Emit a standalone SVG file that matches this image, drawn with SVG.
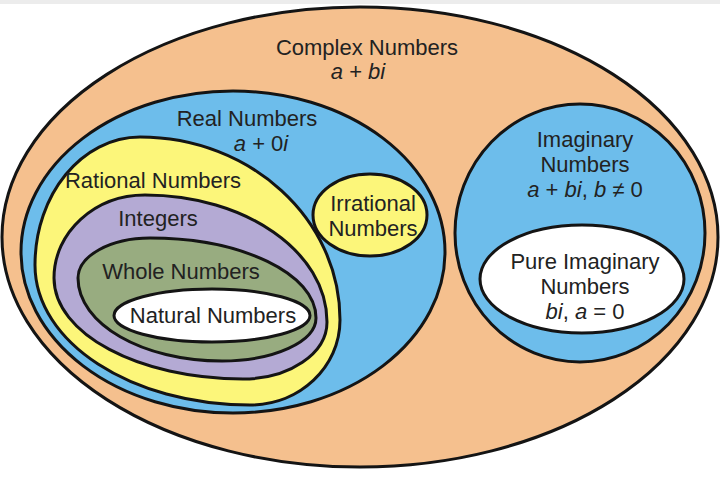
<svg xmlns="http://www.w3.org/2000/svg" width="720" height="480" viewBox="0 0 720 480">
<style>
.s{stroke:#141414;stroke-width:3}
.t{font-family:"Liberation Sans",Arial,sans-serif;font-size:22px;fill:#222;text-anchor:middle}
.i{font-style:italic}
</style>
<rect width="720" height="480" fill="#ffffff"/>
<rect width="720" height="4" fill="#ececec"/>
<g id="complex">
<ellipse class="s" cx="360" cy="237" rx="358" ry="230" fill="#F5C08E"/>
<text class="t" x="367" y="55">Complex Numbers</text>
<text class="t" x="358" y="79"><tspan class="i">a</tspan> + <tspan class="i">bi</tspan></text>
</g>
<g id="real">
<ellipse class="s" cx="233" cy="252" rx="212" ry="161" fill="#6DBDEB"/>
<text class="t" x="247" y="126">Real Numbers</text>
<text class="t" x="261" y="151"><tspan class="i">a</tspan> + 0<tspan class="i">i</tspan></text>
</g>
<g id="rational">
<path class="s" fill="#FCF67A" d="M35,265 C35,194.3 82,137 140,137 C250.5,137 340,218.9 340,320 C340,367 299.7,405 250,405 C131.3,405 35,342.3 35,265 Z"/>
<text class="t" x="153" y="188">Rational Numbers</text>
</g>
<g id="integers">
<path class="s" fill="#B4AAD4" d="M54,278 C54,232.2 94.7,195 145,195 C245.5,195 327,251.9 327,322 C327,353.5 289.4,379 243,379 C138.6,379 54,333.8 54,278 Z"/>
<text class="t" x="158" y="226">Integers</text>
</g>
<g id="whole">
<path class="s" fill="#98AC80" d="M78,278 C78,255.9 110.2,238 150,238 C241.7,238 316,273.8 316,318 C316,341.7 273.9,361 222,361 C142.5,361 78,323.8 78,278 Z"/>
<text class="t" x="181" y="279">Whole Numbers</text>
</g>
<g id="natural">
<ellipse class="s" cx="212" cy="315.5" rx="98" ry="26.5" fill="#ffffff"/>
<text class="t" x="213" y="323">Natural Numbers</text>
</g>
<g id="irrational">
<ellipse class="s" cx="370" cy="215" rx="57" ry="41" fill="#FCF67A"/>
<text class="t" x="373" y="211">Irrational</text>
<text class="t" x="373" y="236">Numbers</text>
</g>
<g id="imaginary">
<ellipse class="s" cx="580" cy="233" rx="125" ry="129" fill="#6DBDEB"/>
<text class="t" x="585" y="147">Imaginary</text>
<text class="t" x="585" y="172">Numbers</text>
<text class="t" x="585" y="197"><tspan class="i">a</tspan> + <tspan class="i">bi</tspan>, <tspan class="i">b</tspan> ≠ 0</text>
</g>
<g id="pure-imaginary">
<ellipse class="s" cx="582" cy="279" rx="102" ry="54" fill="#ffffff"/>
<text class="t" x="585" y="269">Pure Imaginary</text>
<text class="t" x="585" y="294">Numbers</text>
<text class="t" x="585" y="319"><tspan class="i">bi</tspan>, <tspan class="i">a</tspan> = 0</text>
</g>
</svg>
